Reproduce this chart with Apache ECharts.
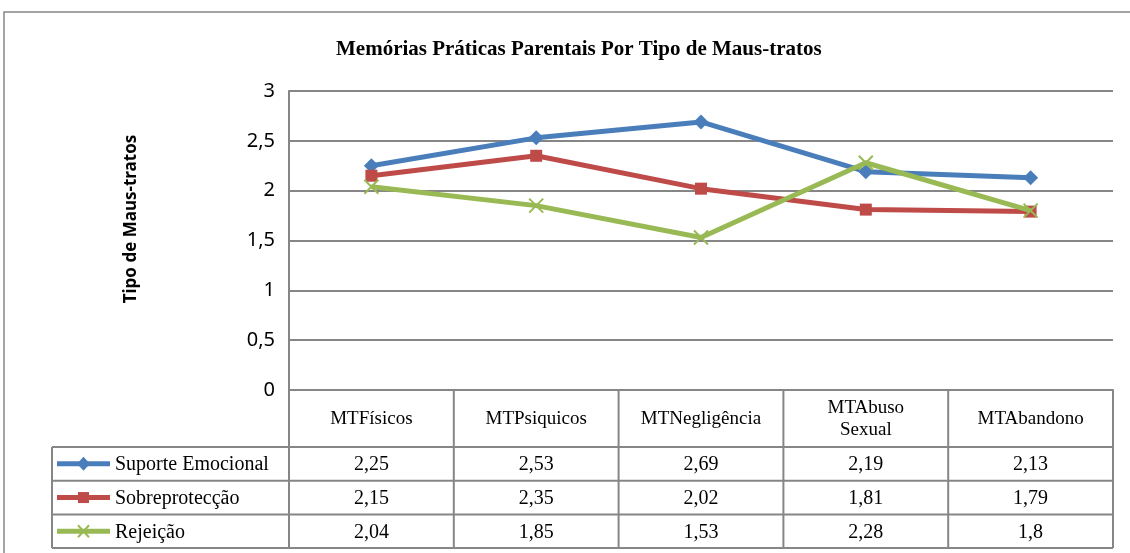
<!DOCTYPE html>
<html>
<head>
<meta charset="utf-8">
<script src="https://cdn.jsdelivr.net/npm/echarts@6/dist/echarts.min.js"></script>
<style>
  html, body { margin: 0; padding: 0; background: #fff; }
  #chart { width: 1130px; height: 553px; }
</style>
</head>
<body>
<div id="chart"></div>
<script>
// dados
const categorias = ['MTFísicos', 'MTPsiquicos', 'MTNegligência', 'MTAbuso\nSexual', 'MTAbandono'];
const suporteEmocional = [2.25, 2.53, 2.69, 2.19, 2.13];
const sobreproteccao = [2.15, 2.35, 2.02, 1.81, 1.79];
const rejeicao = [2.04, 1.85, 1.53, 2.28, 1.8];
const nomesSeries = ['Suporte Emocional', 'Sobreprotecção', 'Rejeição'];
const yTicks = [0, 0.5, 1, 1.5, 2, 2.5, 3];

const cores = ['#4a7ebb', '#be4b48', '#98b954'];
const GRID_LEFT = 289, GRID_RIGHT = 1113, GRID_TOP = 91, GRID_BOTTOM = 390;
const TABLE_TOP = 447, ROW_H = 33.7, TABLE_LEFT = 52;
const SERIF = '"Liberation Serif", "Times New Roman", serif';
const SANS = '"Noto Sans", "Liberation Sans", sans-serif';

const virgula = v => String(v).replace('.', ',');

let myChart = echarts.init(document.getElementById('chart'));

const series = [suporteEmocional, sobreproteccao, rejeicao].map((d, i) => ({
  name: nomesSeries[i],
  type: 'line',
  data: d,
  symbol: ['diamond', 'rect', 'path://M0,0 L10,10 M10,0 L0,10'][i],
  symbolSize: [15, 12, 14][i],
  lineStyle: {color: cores[i], width: 5},
  itemStyle: i === 2 ? {color: cores[i], borderColor: cores[i], borderWidth: 2} : {color: cores[i]},
  z: 3 + i,
  animation: false
}));

myChart.setOption({
  animation: false,
  title: {
    text: 'Memórias Práticas Parentais Por Tipo de Maus-tratos',
    left: 331,
    top: 34,
    textStyle: {fontFamily: SERIF, fontSize: 21, fontWeight: 'bold', color: '#000'}
  },
  grid: {
    left: GRID_LEFT,
    right: 1130 - GRID_RIGHT,
    top: GRID_TOP,
    bottom: 553 - GRID_BOTTOM
  },
  xAxis: {
    type: 'category',
    data: categorias,
    boundaryGap: true,
    axisLine: {show: true, lineStyle: {color: '#868686', width: 2}},
    axisTick: {show: false},
    axisLabel: {show: false},
    splitLine: {show: false}
  },
  yAxis: {
    type: 'value',
    min: yTicks[0],
    max: yTicks[yTicks.length - 1],
    interval: 0.5,
    axisLine: {show: true, lineStyle: {color: '#868686', width: 2}},
    axisTick: {show: false},
    axisLabel: {
      formatter: virgula,
      fontFamily: SANS,
      fontSize: 20,
      color: '#000',
      margin: 14
    },
    splitLine: {show: true, lineStyle: {color: '#868686', width: 2}}
  },
  series: series
});

// tabela de dados por baixo do gráfico
function desenhaTabela() {
  const n = categorias.length;
  const colW = (GRID_RIGHT - GRID_LEFT) / n;
  const tableBottom = TABLE_TOP + ROW_H * 3;
  const g = [];
  const linha = (x1, y1, x2, y2, cor, w) => ({
    type: 'line', silent: true,
    shape: {x1, y1, x2, y2},
    style: {stroke: cor || '#868686', lineWidth: w || 2}
  });
  // moldura exterior
  g.push({type: 'rect', silent: true, shape: {x: 4, y: 12, width: 1200, height: 700},
    style: {fill: 'none', stroke: '#868686', lineWidth: 1.5}, z: 0});
  // verticais
  for (let i = 0; i <= n; i++) {
    const x = GRID_LEFT + colW * i;
    g.push(linha(x, GRID_BOTTOM, x, tableBottom));
  }
  g.push(linha(TABLE_LEFT, TABLE_TOP, TABLE_LEFT, tableBottom));
  // horizontais
  for (let r = 0; r <= 3; r++) {
    const y = TABLE_TOP + ROW_H * r;
    g.push(linha(TABLE_LEFT, y, GRID_RIGHT, y));
  }
  // cabeçalho
  categorias.forEach((c, i) => {
    const x = myChart.convertToPixel({xAxisIndex: 0}, i);
    g.push({type: 'text', silent: true, x: x, y: (GRID_BOTTOM + TABLE_TOP) / 2 + 1,
      style: {text: c, fontFamily: SERIF, fontSize: 19, fill: '#000', align: 'center',
        verticalAlign: 'middle', lineHeight: 22}});
  });
  // legenda + valores
  [suporteEmocional, sobreproteccao, rejeicao].forEach((d, r) => {
    const yc = TABLE_TOP + ROW_H * (r + 0.5);
    g.push(linha(57, yc, 110, yc, cores[r], 5));
    if (r === 0) {
      g.push({type: 'polygon', silent: true,
        shape: {points: [[83.5, yc - 7], [90, yc], [83.5, yc + 7], [77, yc]]}, style: {fill: cores[r]}});
    } else if (r === 1) {
      g.push({type: 'rect', silent: true, shape: {x: 78, y: yc - 5.5, width: 11, height: 11},
        style: {fill: cores[r]}});
    } else {
      g.push(linha(78, yc - 6, 89, yc + 6, cores[r], 2));
      g.push(linha(78, yc + 6, 89, yc - 6, cores[r], 2));
    }
    g.push({type: 'text', silent: true, x: 115, y: yc + 1,
      style: {text: nomesSeries[r], fontFamily: SERIF, fontSize: 20, fill: '#000',
        align: 'left', verticalAlign: 'middle'}});
    d.forEach((v, i) => {
      const x = myChart.convertToPixel({xAxisIndex: 0}, i);
      g.push({type: 'text', silent: true, x: x, y: yc + 1,
        style: {text: virgula(v), fontFamily: SERIF, fontSize: 20, fill: '#000',
          align: 'center', verticalAlign: 'middle'}});
    });
  });
  // título do eixo
  g.push({type: 'text', silent: true, x: 131, y: 219, rotation: Math.PI / 2,
    style: {text: 'Tipo de Maus-tratos', fontFamily: SANS, fontSize: 17, fontWeight: 'bold',
      fill: '#000', align: 'center', verticalAlign: 'middle'}});
  myChart.setOption({graphic: g});
}
desenhaTabela();
</script>
</body>
</html>
